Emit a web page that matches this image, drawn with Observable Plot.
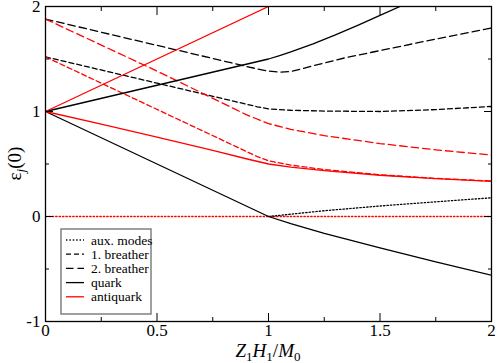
<!DOCTYPE html>
<html><head><meta charset="utf-8">
<script src="https://cdn.jsdelivr.net/npm/d3@7"></script>
<script src="https://cdn.jsdelivr.net/npm/@observablehq/plot@0.6"></script>
<style>html,body{margin:0;padding:0;background:#fff}
svg text{font-family:"Liberation Serif","Times New Roman",Times,serif !important}</style>
</head><body><div id="chart"></div>
<script>
// ---- data ----
const quarkUpperX = [0, 1, 1.05, 1.1, 1.2, 1.3, 1.4, 1.5, 1.6];
const quarkUpperY = [1, 1.5, 1.533, 1.568, 1.645, 1.73, 1.82, 1.915, 2.01];
const quarkLowerX = [0, 1, 1.1, 1.25, 1.5, 1.75, 2];
const quarkLowerY = [1, 0, -0.068, -0.16, -0.298, -0.432, -0.56];
const antiUpperX = [0, 1];
const antiUpperY = [1, 2];
const antiLowerX = [0, 0.25, 0.5, 0.75, 0.9, 1, 1.1, 1.25, 1.5, 1.75, 2];
const antiLowerY = [1, 0.88, 0.755, 0.63, 0.55, 0.5, 0.47, 0.437, 0.393, 0.361, 0.335];
const breather1QX = [0, 0.95, 1, 1.1, 1.25, 1.5, 1.75, 2];
const breather1QY = [1.52, 1.045, 1.025, 1.012, 1.004, 1.0, 1.018, 1.048];
const breather1AX = [0, 0.85, 0.95, 1, 1.1, 1.25, 1.5, 1.75, 2];
const breather1AY = [1.52, 0.67, 0.57, 0.53, 0.49, 0.447, 0.397, 0.363, 0.338];
const breather2QX = [0, 0.9, 0.95, 1, 1.05, 1.1, 1.2, 1.35, 1.5, 1.75, 2];
const breather2QY = [1.88, 1.43, 1.405, 1.385, 1.375, 1.38, 1.435, 1.515, 1.58, 1.69, 1.795];
const breather2AX = [0, 0.5, 0.9, 1, 1.1, 1.25, 1.5, 1.75, 2];
const breather2AY = [1.88, 1.385, 0.97, 0.885, 0.83, 0.77, 0.695, 0.635, 0.585];
const auxQX = [1, 1.25, 1.5, 1.75, 2];
const auxQY = [0, 0.055, 0.1, 0.14, 0.178];
const auxAX = [0, 2];
const auxAY = [0, 0];

const xMajorTicks = [0, 0.5, 1, 1.5, 2];
const xMinorTicks = [0.25, 0.75, 1.25, 1.75];
const yMajorTicks = [-1, 0, 1, 2];
const yMinorTicks = [-0.5, 0.5, 1.5];
const legendLabels = ["aux. modes", "1. breather", "2. breather", "quark", "antiquark"];

// ---- styles ----
const RED = "#ff0000", BLACK = "#000000";
const DOT = "1.4,2", DASH1 = "5,3", DASH2 = "7.5,4";
const legendStyles = [
  {stroke: BLACK, dash: DOT},
  {stroke: BLACK, dash: DASH1},
  {stroke: BLACK, dash: DASH2},
  {stroke: BLACK, dash: null},
  {stroke: RED, dash: null}
];

const pts = (xs, ys) => xs.map((x, i) => ({x, y: ys[i]}));
const line = (xs, ys, stroke, dash) =>
  Plot.line(pts(xs, ys), {x: "x", y: "y", stroke, strokeWidth: 1.3, strokeDasharray: dash ?? undefined, clip: true});
const fmt = d => String(d);
const blank = () => "";
const serif = '"Liberation Serif","Times New Roman",Times,serif';

const W = 498, H = 363;
const chart = Plot.plot({
  width: W, height: H,
  marginLeft: 45, marginRight: 7, marginTop: 6, marginBottom: 42,
  x: {domain: [0, 2]},
  y: {domain: [-1, 2]},
  style: {fontFamily: serif, fontSize: "17px", background: "#fff", color: "#000"},
  marks: [
    line(auxAX, auxAY, RED, DOT),
    line(auxQX, auxQY, BLACK, DOT),
    line(breather1QX, breather1QY, BLACK, DASH1),
    line(breather2QX, breather2QY, BLACK, DASH2),
    line(breather1AX, breather1AY, RED, DASH1),
    line(breather2AX, breather2AY, RED, DASH2),
    line(quarkUpperX, quarkUpperY, BLACK, null),
    line(quarkLowerX, quarkLowerY, BLACK, null),
    line(antiUpperX, antiUpperY, RED, null),
    line(antiLowerX, antiLowerY, RED, null),
    Plot.axisX({anchor: "bottom", ticks: xMajorTicks, tickSize: -8, tickPadding: 10, tickFormat: fmt, label: null}),
    Plot.axisX({anchor: "bottom", ticks: xMinorTicks, tickSize: -4, tickFormat: blank, label: null}),
    Plot.axisX({anchor: "top", ticks: xMajorTicks, tickSize: -8, tickFormat: blank, label: null}),
    Plot.axisX({anchor: "top", ticks: xMinorTicks, tickSize: -4, tickFormat: blank, label: null}),
    Plot.axisY({anchor: "left", ticks: yMajorTicks, tickSize: -8, tickPadding: 13, tickFormat: fmt, label: null}),
    Plot.axisY({anchor: "left", ticks: yMinorTicks, tickSize: -4, tickFormat: blank, label: null}),
    Plot.axisY({anchor: "right", ticks: yMajorTicks, tickSize: -8, tickFormat: blank, label: null}),
    Plot.axisY({anchor: "right", ticks: yMinorTicks, tickSize: -4, tickFormat: blank, label: null}),
    Plot.frame({stroke: "#000", strokeWidth: 1.3})
  ]
});
document.getElementById("chart").appendChild(chart);

const svg = d3.select(chart);
const xs = chart.scale("x"), ys = chart.scale("y");

const addPart = (t, s, opts = {}) => {
  const ts = t.append("tspan").text(s);
  if (opts.italic) ts.attr("font-style", "italic");
  if (opts.sub) ts.attr("dy", opts.sub).attr("font-size", 13);
  if (opts.up) ts.attr("dy", opts.up);
  return ts;
};

// x axis label
const xl = svg.append("text")
  .attr("x", (xs.apply(0) + xs.apply(2)) / 2).attr("y", 357)
  .attr("text-anchor", "middle").attr("font-family", serif).attr("font-size", 19).attr("fill", "#000");
addPart(xl, "Z", {italic: true});
addPart(xl, "1", {sub: 4});
addPart(xl, "H", {italic: true, up: -4});
addPart(xl, "1", {sub: 4});
addPart(xl, "/", {up: -4});
addPart(xl, "M", {italic: true});
addPart(xl, "0", {sub: 4});

// y axis label
const yc = (ys.apply(-1) + ys.apply(2)) / 2;
const yl = svg.append("text")
  .attr("transform", `translate(21,${yc}) rotate(-90)`)
  .attr("text-anchor", "middle").attr("font-family", serif).attr("font-size", 19).attr("fill", "#000");
addPart(yl, "ε");
addPart(yl, "j", {italic: true, sub: 4});
addPart(yl, "(0)", {up: -4});

// legend
const lg = svg.append("g");
lg.append("rect").attr("x", 61).attr("y", 229).attr("width", 90).attr("height", 85)
  .attr("fill", "#fff").attr("stroke", "#808080").attr("stroke-width", 1.5);
legendLabels.forEach((lab, i) => {
  const cy = 240 + i * 14.2;
  const st = legendStyles[i];
  lg.append("line").attr("x1", 66).attr("x2", 84).attr("y1", cy).attr("y2", cy)
    .attr("stroke", st.stroke).attr("stroke-width", 1.3).attr("stroke-dasharray", st.dash);
  lg.append("text").attr("x", 91).attr("y", cy + 4.5).attr("text-anchor", "start")
    .attr("font-family", serif).attr("font-size", 13.5).attr("fill", "#000").text(lab);
});
</script>
</body></html>
